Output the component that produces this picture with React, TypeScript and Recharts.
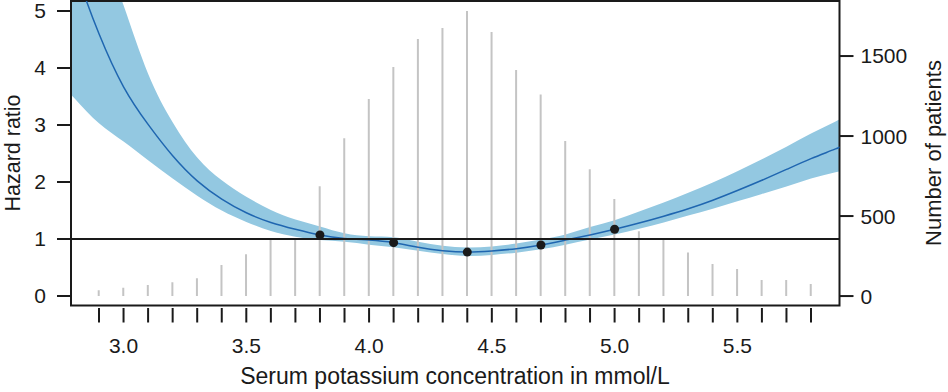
import { Area, Bar, ComposedChart, Line, ReferenceArea, ReferenceLine, XAxis, YAxis } from 'recharts';

// spline fit (ends run past the plot box and get clipped)
const potassium = [
    2.7, 2.8, 2.9, 3.0, 3.1, 3.2, 3.3, 3.4, 3.5, 3.6, 3.7, 3.8, 3.9, 4.0, 4.1, 4.2, 4.3, 4.4, 4.5, 4.6, 4.7, 4.8, 4.9,
    5.0, 5.1, 5.2, 5.3, 5.4, 5.5, 5.6, 5.7, 5.8, 5.9, 6.0,
];
const hazard = [
    7.3, 5.8, 4.6, 3.67, 3.01, 2.46, 2.02, 1.7, 1.46, 1.29, 1.17, 1.07, 1.01, 0.98, 0.935, 0.855, 0.795, 0.77, 0.79,
    0.83, 0.895, 0.98, 1.07, 1.17, 1.28, 1.4, 1.53, 1.68, 1.85, 2.03, 2.22, 2.41, 2.58, 2.76,
];
const lower = [
    3.95, 3.47, 3.03, 2.71, 2.38, 2.06, 1.76, 1.5, 1.3, 1.14, 1.04, 0.98, 0.95, 0.9, 0.855, 0.795, 0.737, 0.7, 0.72,
    0.76, 0.82, 0.9, 0.99, 1.08, 1.18, 1.29, 1.41, 1.53, 1.66, 1.79, 1.92, 2.06, 2.17, 2.28,
];
const upper = [
    9.0, 7.6, 6.3, 5.1, 3.9, 3.05, 2.43, 2.03, 1.74, 1.51, 1.34, 1.22, 1.1, 1.05, 1.03, 0.95, 0.88, 0.85, 0.87, 0.92,
    0.99, 1.08, 1.21, 1.33, 1.48, 1.64, 1.81, 1.99, 2.19, 2.4, 2.62, 2.85, 3.06, 3.28,
];

// histogram of patients
const countK = [
    2.9, 3.0, 3.1, 3.2, 3.3, 3.4, 3.5, 3.6, 3.7, 3.8, 3.9, 4.0, 4.1, 4.2, 4.3, 4.4, 4.5, 4.6, 4.7, 4.8, 4.9, 5.0, 5.1,
    5.2, 5.3, 5.4, 5.5, 5.6, 5.7, 5.8,
];
const patients = [
    37, 52, 69, 87, 112, 194, 262, 350, 355, 687, 987, 1231, 1431, 1606, 1675, 1781, 1650, 1412, 1260, 969, 792, 606,
    405, 356, 273, 200, 169, 100, 100, 75,
];

// knots
const knotK = [3.8, 4.1, 4.4, 4.7, 5.0];
const knotHR = [1.07, 0.935, 0.77, 0.895, 1.17];

const xTicks = countK;
const hrTicks = [0, 1, 2, 3, 4, 5];
const nTicks = [0, 500, 1000, 1500];

const near = (a: number, b: number) => Math.abs(a - b) < 1e-9;

const data = potassium.map((k, i) => {
    const ci = countK.findIndex((c) => near(c, k));
    const ki = knotK.findIndex((c) => near(c, k));
    return {
        k,
        hr: hazard[i],
        band: [lower[i], upper[i]],
        n: ci >= 0 ? patients[ci] : null,
        pt: ki >= 0 ? knotHR[ki] : null,
    };
});

const FONT = '"Liberation Sans", Arial, Helvetica, sans-serif';
const INK = '#1a1a1a';

const XTick = ({ x, y, payload }: any) => {
    const v = payload.value as number;
    const labelled = Math.abs(v * 2 - Math.round(v * 2)) < 1e-6;
    return (
        <g>
            <line x1={x} x2={x} y1={y + 2.5} y2={y + 17} stroke={INK} strokeWidth={2} />
            {labelled && (
                <text x={x} y={y + 47.5} textAnchor="middle" fontSize={21} fontFamily={FONT} fill={INK}>
                    {v.toFixed(1)}
                </text>
            )}
        </g>
    );
};

const title = (text: string, x: number, y: number, angle = 0, size = 22) => () =>
    (
        <text
            x={x}
            y={y}
            transform={angle ? `rotate(${angle} ${x} ${y})` : undefined}
            textAnchor="middle"
            fontSize={size}
            fontFamily={FONT}
            fill={INK}
        >
            {text}
        </text>
    );

const X_MIN = 2.786;
const X_MAX = 5.916;
const HR_MIN = -0.167;
const HR_MAX = 5.175;

export default function App() {
    return (
        <div style={{ position: 'absolute', left: 0, top: 0, background: '#fff' }}>
            <ComposedChart width={948} height={392} data={data} margin={{ top: 1, right: 0, bottom: 0, left: 0 }}>
                <XAxis
                    xAxisId="x"
                    type="number"
                    dataKey="k"
                    domain={[X_MIN, X_MAX]}
                    allowDataOverflow
                    ticks={xTicks}
                    interval={0}
                    height={86.5}
                    axisLine={false}
                    tickLine={false}
                    tickSize={0}
                    tickMargin={0}
                    tick={<XTick />}
                    label={title('Serum potassium concentration in mmol/L', 455, 384, 0, 23)}
                />
                <YAxis
                    yAxisId="left"
                    type="number"
                    domain={[HR_MIN, HR_MAX]}
                    allowDataOverflow
                    ticks={hrTicks}
                    interval={0}
                    width={71}
                    axisLine={false}
                    tickLine={{ stroke: INK, strokeWidth: 2 }}
                    tickSize={14}
                    tickMargin={11}
                    tick={{ fontSize: 21, fontFamily: FONT, fill: INK }}
                    label={title('Hazard ratio', 20, 153, -90, 21.5)}
                />
                <YAxis
                    yAxisId="right"
                    orientation="right"
                    type="number"
                    domain={[-59, 1844]}
                    allowDataOverflow
                    ticks={nTicks}
                    interval={0}
                    width={108.5}
                    axisLine={false}
                    tickLine={{ stroke: INK, strokeWidth: 2 }}
                    tickSize={14}
                    tickMargin={7}
                    tick={{ fontSize: 21, fontFamily: FONT, fill: INK }}
                    label={title('Number of patients', 941, 153, -90)}
                />
                <Bar
                    xAxisId="x"
                    yAxisId="right"
                    dataKey="n"
                    barSize={2}
                    fill="#c4c4c4"
                    isAnimationActive={false}
                />
                <Area
                    xAxisId="x"
                    yAxisId="left"
                    type="natural"
                    dataKey="band"
                    stroke="none"
                    fill="#93c8e1"
                    fillOpacity={1}
                    isAnimationActive={false}
                />
                <Line
                    xAxisId="x"
                    yAxisId="left"
                    type="natural"
                    dataKey="hr"
                    stroke="#1f66b0"
                    strokeWidth={1.5}
                    dot={false}
                    isAnimationActive={false}
                />
                <ReferenceLine xAxisId="x" yAxisId="left" y={1} stroke={INK} strokeWidth={2} />
                <Line
                    xAxisId="x"
                    yAxisId="left"
                    dataKey="pt"
                    stroke="none"
                    dot={{ r: 4.5, fill: INK, stroke: 'none' }}
                    isAnimationActive={false}
                />
                <ReferenceArea
                    xAxisId="x"
                    yAxisId="left"
                    x1={X_MIN}
                    x2={X_MAX}
                    y1={HR_MIN}
                    y2={HR_MAX}
                    fill="none"
                    stroke={INK}
                    strokeWidth={2}
                />
            </ComposedChart>
        </div>
    );
}
